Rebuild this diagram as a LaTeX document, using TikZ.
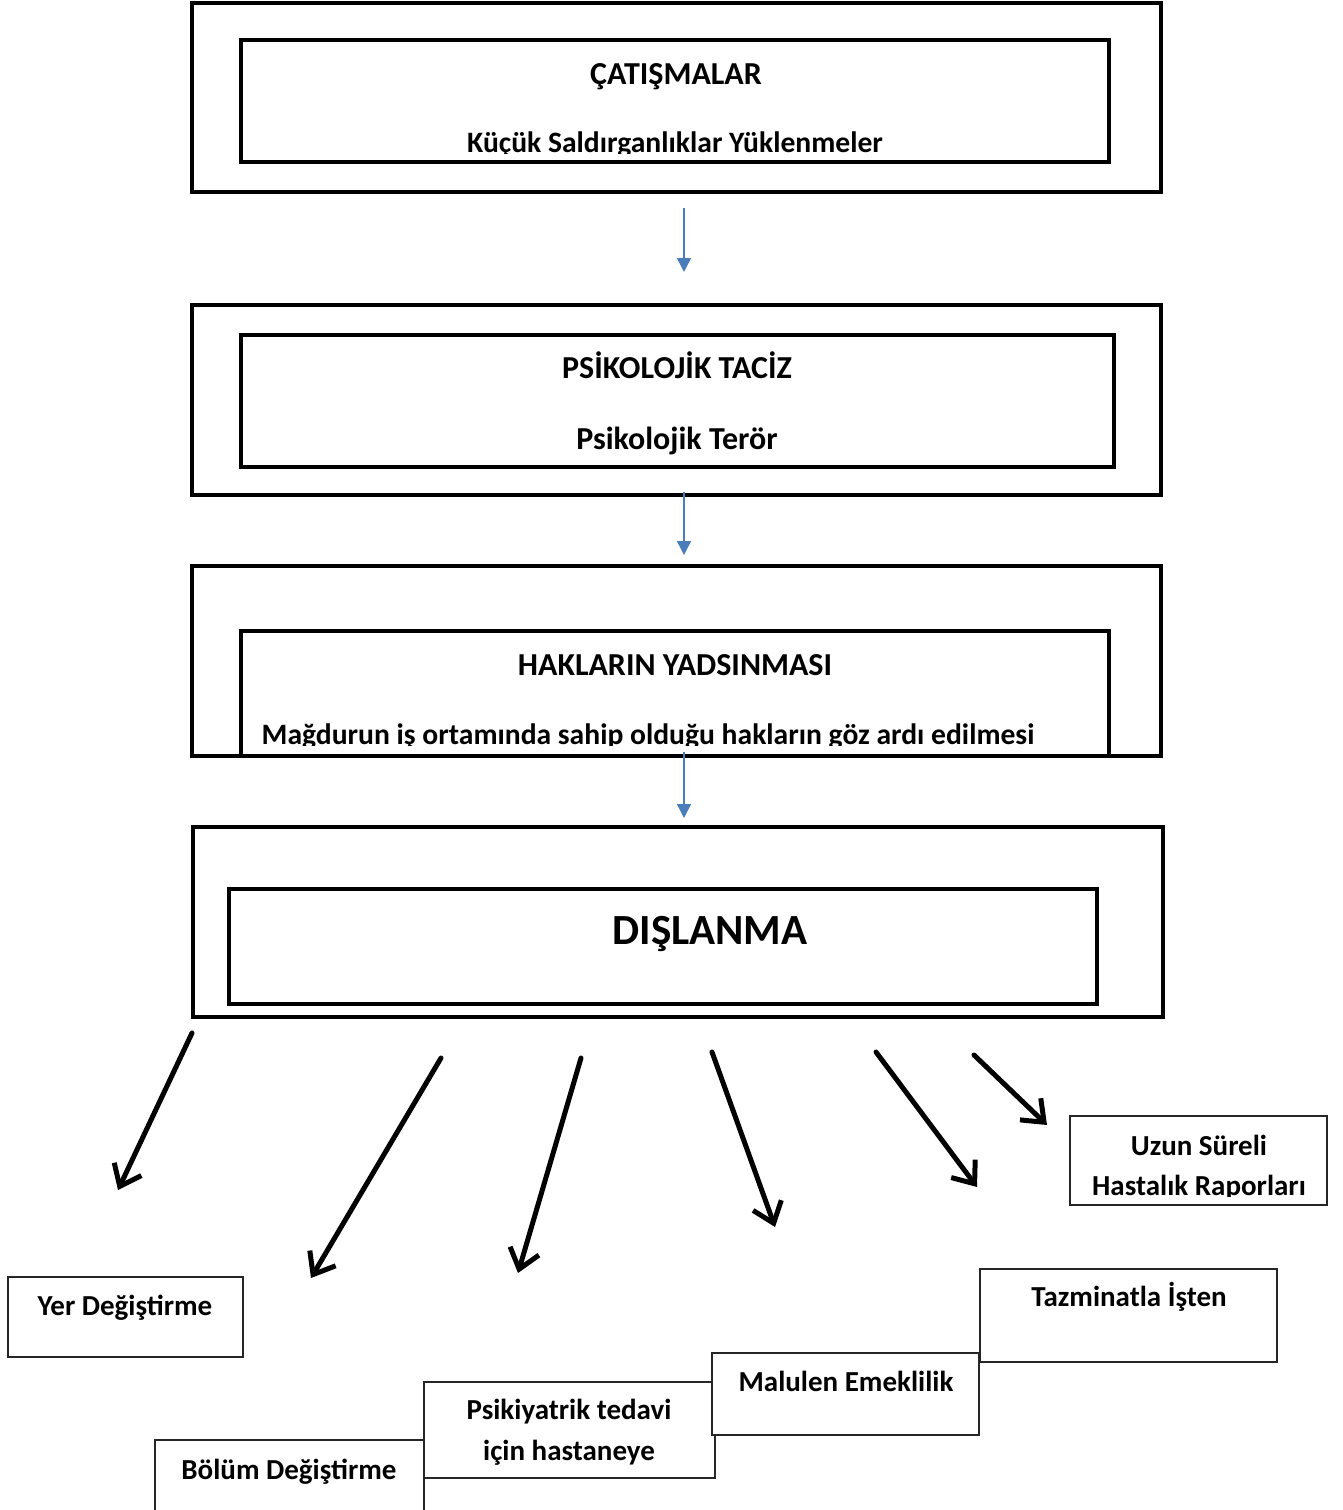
\documentclass[tikz,border=0pt]{standalone}
\usepackage{fontspec}
\setmainfont{Carlito}
\usetikzlibrary{arrows.meta,positioning,calc,fit}
\definecolor{Ink}{HTML}{000000}
\definecolor{FlowBlue}{HTML}{4A7EBB}
\definecolor{Edge}{HTML}{262626}
\tikzset{
 frame/.style={draw=Ink, line width=2pt, inner sep=0pt, fill=none},
 outcome/.style={draw=Edge, line width=0.7pt, inner sep=0pt, fill=white},
 title/.style={font=\fontsize{16}{19}\selectfont\bfseries, inner sep=0pt, anchor=base},
 subtitle/.style={font=\fontsize{14.8}{18}\selectfont\bfseries, inner sep=0pt, anchor=base},
 bigtitle/.style={font=\fontsize{21.5}{25}\selectfont\bfseries, inner sep=0pt, anchor=base},
 label/.style={font=\fontsize{14.5}{17}\selectfont\bfseries, inner sep=0pt, anchor=base},
 flow/.style={-{Triangle[length=7pt,width=7pt]}, line width=0.75pt, draw=FlowBlue},
 exitarrow/.style={-{Straight Barb[length=9.5pt,width=15pt,line width=2.5pt]}, line width=2.5pt, draw=Ink, line cap=round}
}

\begin{document}
\begin{tikzpicture}[x=0.5pt,y=-0.5pt]
\useasboundingbox (0,0) rectangle (1343,1510);

\node[frame, fit={(192,3) (1161,192)}] (catOuter) {};
\node[frame, fit={(241,40) (1109,162)}] (catInner) {};
\node[title] (catTitle) at (676,84) {ÇATIŞMALAR};
\begin{scope}
 \clip (catInner.north west) rectangle (1109,153);
 \node[subtitle] (catSub) at (675,152) {Küçük Saldırganlıklar Yüklenmeler};
\end{scope}

\node[frame, fit={(192,305) (1161,495)}] (psiOuter) {};
\node[frame, fit={(241,335) (1114,467)}] (psiInner) {};
\node[title] (psiTitle) at (677,378) {PSİKOLOJİK TACİZ};
\node[title] (psiSub) at (677,449) {Psikolojik Terör};

\node[frame, fit={(192,566) (1161,756)}] (hakOuter) {};
\node[frame, fit={(241,631) (1109,756)}] (hakInner) {};
\node[title] (hakTitle) at (675,675) {HAKLARIN YADSINMASI};
\begin{scope}
 \clip (hakInner.north west) rectangle (1109,745);
 \node[subtitle] (hakSub) at (648,744) {Mağdurun iş ortamında sahip olduğu hakların göz ardı edilmesi};
\end{scope}

\node[frame, fit={(193,827) (1163,1017)}] (disOuter) {};
\node[frame, fit={(229,889) (1097,1004)}] (disInner) {};
\node[bigtitle] (disTitle) at (710,944) {DIŞLANMA};

\coordinate (f1a) at (684,208);  \coordinate (f1b) at (684,272);
\coordinate (f2a) at (684,492);  \coordinate (f2b) at (684,555);
\coordinate (f3a) at (684,752);  \coordinate (f3b) at (684,818);
\draw[flow] (f1a) -- (f1b);
\draw[flow] (f2a) -- (f2b);
\draw[flow] (f3a) -- (f3b);

\node[outcome, fit={(8,1277) (243,1357)}] (yer) {};
\node[label] at (125,1315) {Yer Değiştirme};
\node[outcome, fit={(155,1440) (424,1516)}] (bolum) {};
\node[label] at (289,1479) {Bölüm Değiştirme};
\node[outcome, fit={(424,1382) (715,1478)}] (psik) {};
\node[label] at (569,1419) {Psikiyatrik tedavi};
\node[label] at (569,1460) {için hastaneye};
\node[outcome, fit={(712,1353) (979,1435)}] (malul) {};
\node[label] at (846,1391) {Malulen Emeklilik};
\node[outcome, fit={(980,1269) (1277,1362)}] (tazm) {};
\node[label] at (1129,1306) {Tazminatla İşten};
\node[outcome, fit={(1070,1116) (1327,1205)}] (uzun) {};
\node[label] at (1199,1155) {Uzun Süreli};
\begin{scope}
 \clip (uzun.north west) rectangle (1327,1196);
 \node[label] at (1199,1195) {Hastalık Raporları};
\end{scope}

\foreach \sx/\sy/\ex/\ey [count=\i] in {192/1033/118/1190, 441/1058/311/1278, 581/1058/518/1273, 712/1052/775/1227, 876/1052/977/1187, 974/1055/1047/1125} {
 \coordinate (s\i) at (\sx,\sy);
 \coordinate (e\i) at (\ex,\ey);
 \draw[exitarrow] (s\i) -- (e\i);
}
\end{tikzpicture}
\end{document}
